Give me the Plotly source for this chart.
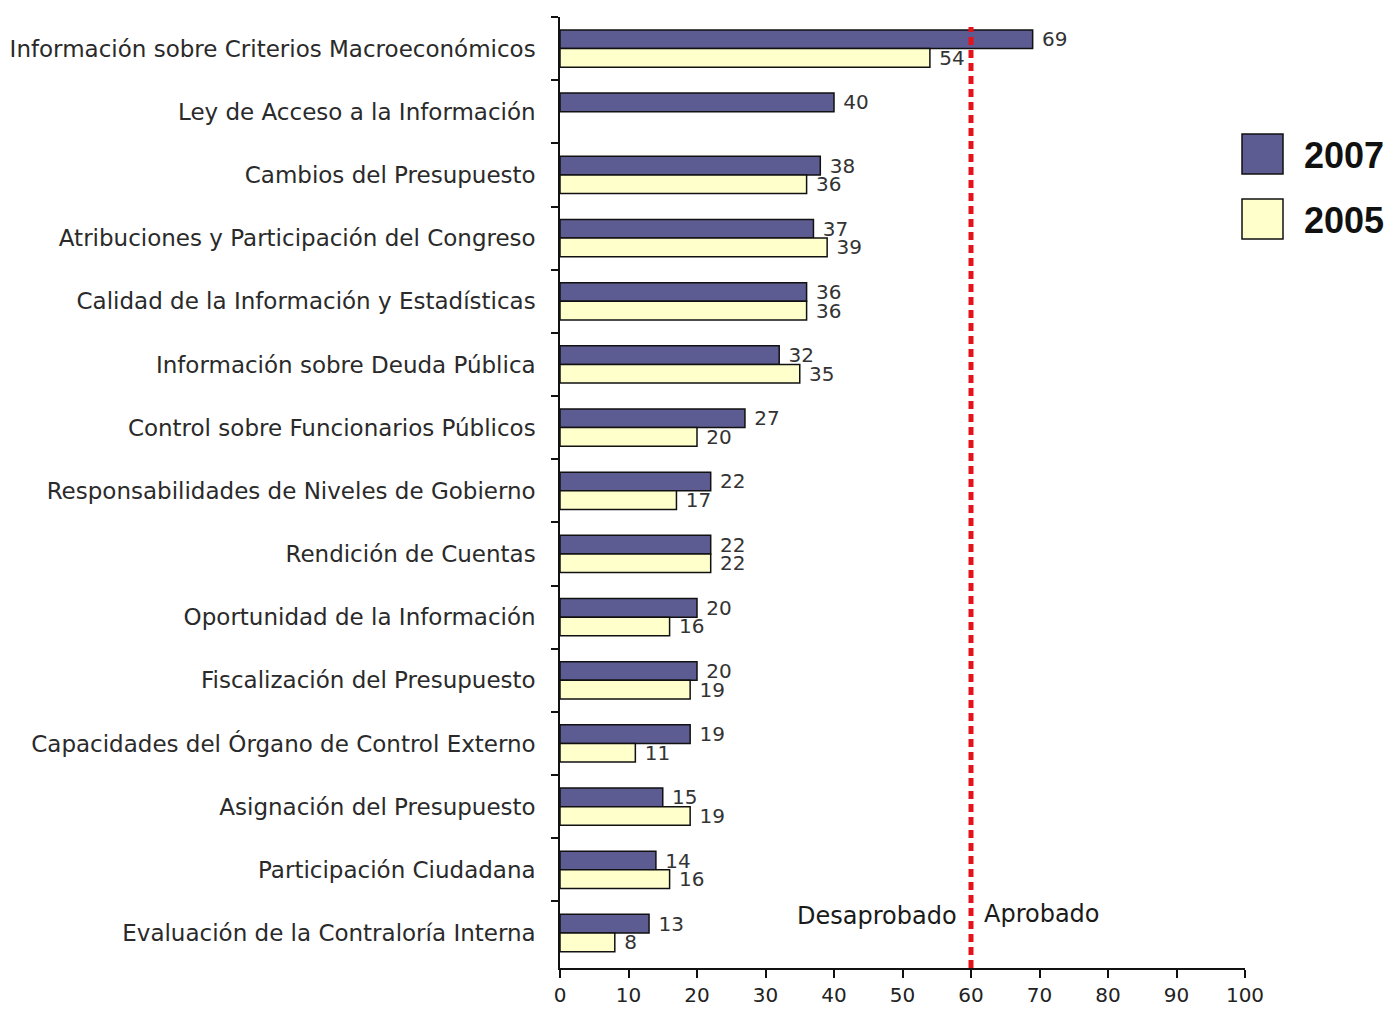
import plotly.graph_objects as go

categories = [
    "Información sobre Criterios Macroeconómicos",
    "Ley de Acceso a la Información",
    "Cambios del Presupuesto",
    "Atribuciones y Participación del Congreso",
    "Calidad de la Información y Estadísticas",
    "Información sobre Deuda Pública",
    "Control sobre Funcionarios Públicos",
    "Responsabilidades de Niveles de Gobierno",
    "Rendición de Cuentas",
    "Oportunidad de la Información",
    "Fiscalización del Presupuesto",
    "Capacidades del Órgano de Control Externo",
    "Asignación del Presupuesto",
    "Participación Ciudadana",
    "Evaluación de la Contraloría Interna",
]
values_2007 = [69, 40, 38, 37, 36, 32, 27, 22, 22, 20, 20, 19, 15, 14, 13]
values_2005 = [54, None, 36, 39, 36, 35, 20, 17, 22, 16, 19, 11, 19, 16, 8]
series_names = ["2007", "2005"]
series_colors = ["#5c5c92", "#ffffcc"]
threshold = 60
x_ticks = list(range(0, 101, 10))

FONT = "DejaVu Sans"

# page has an 8px body margin; work in screen pixels and convert
OFF = 8
W, H = 1396 - 2 * OFF, 1017 - 2 * OFF
PL, PR, PT, PB = 560, 1245, 17, 968  # plot area in screen px


def px_x(sx):
    return (sx - PL) / (PR - PL)


def px_y(sy):
    return (PB - sy) / (PB - PT)


fig = go.Figure()
for name, vals, col in zip(series_names, [values_2007, values_2005], series_colors):
    fig.add_trace(go.Bar(
        y=categories, x=vals, name=name, orientation="h",
        marker=dict(color=col, line=dict(color="#111111", width=1.5)),
        text=[("" if v is None else " " + str(v)) for v in vals],
        textposition="outside", cliponaxis=False, constraintext="none",
        textfont=dict(family=FONT, size=20, color="#333333"),
        showlegend=False,
    ))

fig.add_shape(type="line", xref="x", yref="paper", x0=threshold, x1=threshold,
              y0=0, y1=px_y(27), line=dict(color="#e3121b", width=5, dash="8px,5px"))

fig.add_annotation(x=threshold - 1.8, y=categories[-1], xref="x", yref="y",
                   text="Desaprobado", showarrow=False, xanchor="right",
                   yshift=17, font=dict(family=FONT, size=24, color="#1a1a1a"))
fig.add_annotation(x=threshold + 1.6, y=categories[-1], xref="x", yref="y",
                   text="Aprobado", showarrow=False, xanchor="left",
                   yshift=19, font=dict(family=FONT, size=24, color="#1a1a1a"))

# legend drawn as shapes/annotations to match large swatches
for i, (name, col) in enumerate(zip(series_names, series_colors)):
    top = 134 + i * 65
    fig.add_shape(type="rect", xref="paper", yref="paper",
                  x0=px_x(1242), x1=px_x(1283),
                  y0=px_y(top + 40), y1=px_y(top),
                  fillcolor=col, line=dict(color="#111111", width=1.5))
    fig.add_annotation(xref="paper", yref="paper",
                       x=px_x(1302), y=px_y(top + 21),
                       text="<b>" + name + "</b>", showarrow=False,
                       xanchor="left", yanchor="middle",
                       font=dict(family="Liberation Sans", size=36, color="#111111"))

fig.update_layout(
    width=W, height=H,
    margin=dict(l=PL - OFF, r=W - (PR - OFF), t=PT - OFF, b=H - (PB - OFF)),
    paper_bgcolor="white", plot_bgcolor="white",
    barmode="group", bargap=0.41, bargroupgap=0,
    font=dict(family=FONT, size=20, color="#222222"),
    showlegend=False,
)
fig.update_xaxes(range=[0, 100], tickvals=x_ticks, ticks="outside", ticklen=8,
                 tickwidth=1.5, tickcolor="#111111", showline=True, linecolor="#111111",
                 linewidth=1.5, showgrid=False, zeroline=False, ticklabelstandoff=0,
                 automargin=False,
                 tickfont=dict(family=FONT, size=20, color="#222222"))
fig.update_yaxes(categoryorder="array", categoryarray=categories, autorange="reversed",
                 ticks="outside", tickson="boundaries", ticklen=7, tickwidth=1.5,
                 tickcolor="#111111", showline=True, linecolor="#111111", linewidth=1.5,
                 showgrid=False, ticklabelstandoff=18, automargin=False,
                 tickfont=dict(family=FONT, size=23, color="#2a2a2a"))

fig.write_html("out.html")
